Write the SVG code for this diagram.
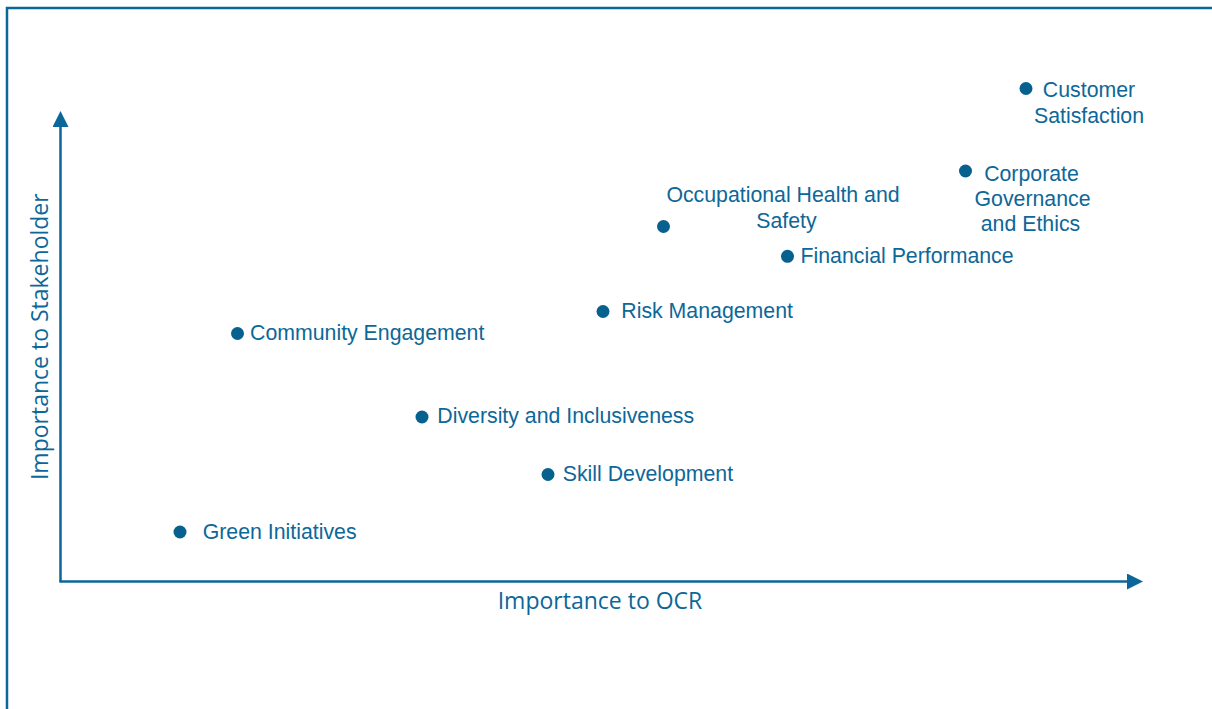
<svg xmlns="http://www.w3.org/2000/svg" width="1212" height="709" viewBox="0 0 1212 709">
<defs>
<style>
.lbl{font-family:"Liberation Sans",Arial,sans-serif;font-size:21.3px;fill:#0d6798;}
.ax{font-family:"Open Sans","Noto Sans",sans-serif;font-size:23px;fill:#0d6798;}
.dot{fill:#06618f;}
.line{stroke:#0b6699;stroke-width:2.5;fill:none;}
</style>
<marker id="arr" viewBox="0 0 16 16" refX="0" refY="8" markerWidth="16" markerHeight="16" markerUnits="userSpaceOnUse" orient="auto">
<path d="M0,0 L16,8 L0,16 Z" fill="#0b6699"/>
</marker>
</defs>
<rect x="0" y="0" width="1212" height="709" fill="#ffffff"/>
<g id="frame">
<path class="line" d="M7,709 L7,8 L1212,8"/>
</g>
<g id="connectors">
<line class="line" x1="60.5" y1="581.5" x2="60.5" y2="127" marker-end="url(#arr)"/>
<line class="line" x1="59.3" y1="581.5" x2="1127" y2="581.5" marker-end="url(#arr)"/>
</g>
<g id="axis-x"><text class="ax" x="600" y="608.5" text-anchor="middle">Importance to OCR</text></g>
<g id="axis-y"><text class="ax" transform="translate(47.5,336.7) rotate(-90)" text-anchor="middle">Importance to Stakeholder</text></g>
<g id="customer-satisfaction">
<circle class="dot" cx="1026" cy="88.5" r="6.5"/>
<text class="lbl" text-anchor="middle"><tspan x="1089" y="97">Customer</tspan><tspan x="1089" y="123">Satisfaction</tspan></text>
</g>
<g id="corporate-governance">
<circle class="dot" cx="965.5" cy="171" r="6.5"/>
<text class="lbl" text-anchor="middle"><tspan x="1031.5" y="181">Corporate</tspan><tspan x="1032.5" y="205.5">Governance</tspan><tspan x="1030.5" y="230.5">and Ethics</tspan></text>
</g>
<g id="occupational-health">
<circle class="dot" cx="663.5" cy="226.5" r="6.5"/>
<text class="lbl" text-anchor="middle"><tspan x="783" y="201.5">Occupational Health and</tspan><tspan x="786.5" y="228">Safety</tspan></text>
</g>
<g id="financial-performance">
<circle class="dot" cx="787.5" cy="256.3" r="6.5"/>
<text class="lbl" x="800.5" y="262.7">Financial Performance</text>
</g>
<g id="risk-management">
<circle class="dot" cx="603" cy="311.5" r="6.5"/>
<text class="lbl" x="621.3" y="317.7">Risk Management</text>
</g>
<g id="community-engagement">
<circle class="dot" cx="237.5" cy="333.5" r="6.5"/>
<text class="lbl" x="250" y="340">Community Engagement</text>
</g>
<g id="diversity-inclusiveness">
<circle class="dot" cx="422" cy="417" r="6.5"/>
<text class="lbl" x="437.3" y="423.3">Diversity and Inclusiveness</text>
</g>
<g id="skill-development">
<circle class="dot" cx="548" cy="474.5" r="6.5"/>
<text class="lbl" x="562.7" y="480.7">Skill Development</text>
</g>
<g id="green-initiatives">
<circle class="dot" cx="180" cy="532" r="6.5"/>
<text class="lbl" x="202.7" y="539.3">Green Initiatives</text>
</g>
</svg>
